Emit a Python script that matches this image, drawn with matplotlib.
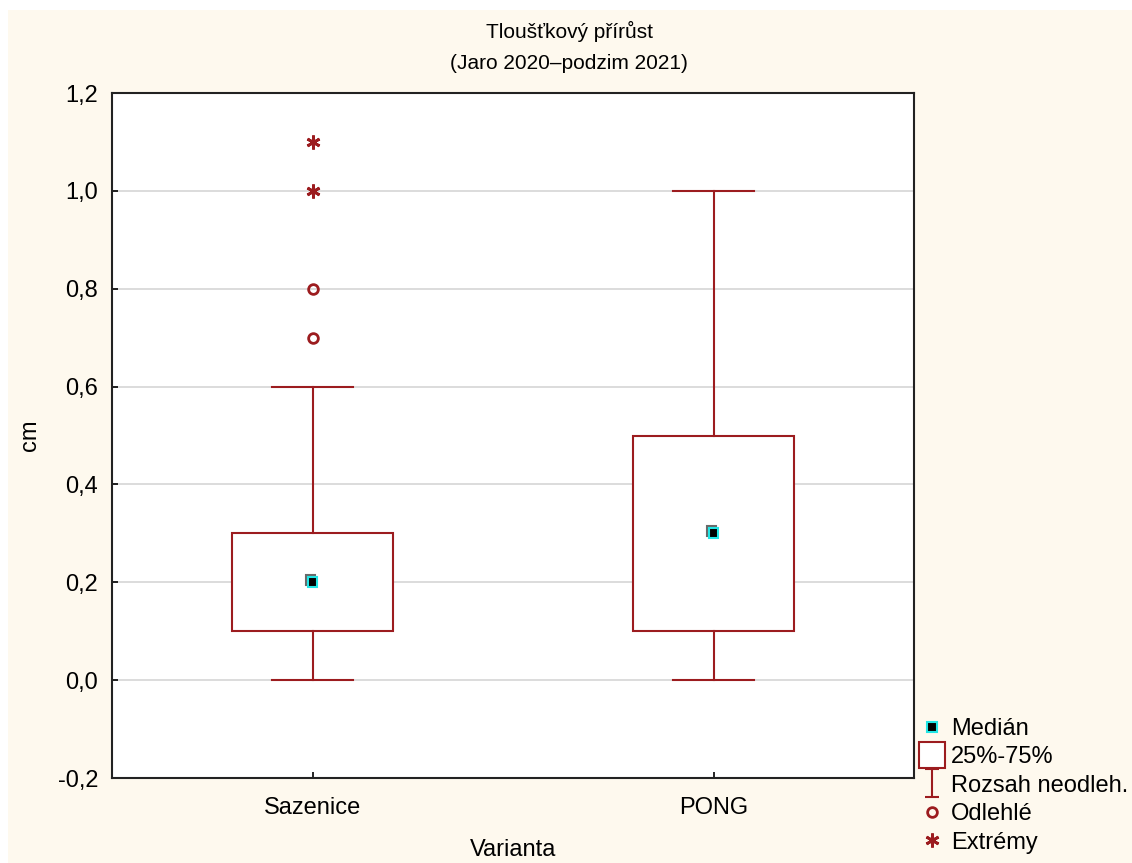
import matplotlib.pyplot as plt
import matplotlib.patheffects as pe
from matplotlib.lines import Line2D
from matplotlib.patches import Rectangle
from matplotlib.path import Path

plt.rcParams['font.family'] = ['Liberation Sans', 'DejaVu Sans']

categories = ['Sazenice', 'PONG']
medians = [0.2, 0.3]
q1 = [0.1, 0.1]
q3 = [0.3, 0.5]
whisker_lo = [0.0, 0.0]
whisker_hi = [0.6, 1.0]
outliers = [[0.7, 0.8], []]
extremes = [[1.0, 1.1], []]
yticks = [-0.2, 0.0, 0.2, 0.4, 0.6, 0.8, 1.0, 1.2]

red = '#9c1c1f'
cream = '#fef9ee'

fig = plt.figure(figsize=(11.32, 8.63), dpi=100)
fig.patch.set_facecolor('white')
fig.patches.append(Rectangle((8 / 1132, 0), 1, 1 - 10 / 863, transform=fig.transFigure,
                             facecolor=cream, edgecolor='none', zorder=-10))
ax = fig.add_axes([112 / 1132, 1 - 778 / 863, 802 / 1132, 685 / 863])
ax.set_facecolor('white')

stats = []
for i, name in enumerate(categories):
    stats.append(dict(label=name, med=medians[i], q1=q1[i], q3=q3[i],
                      whislo=whisker_lo[i], whishi=whisker_hi[i], fliers=outliers[i]))

pos = [1, 2]
ax.bxp(stats, positions=pos, widths=0.4, showfliers=True, patch_artist=True,
       boxprops=dict(facecolor='white', edgecolor=red, linewidth=1.5),
       whiskerprops=dict(color=red, linewidth=1.5),
       capprops=dict(color=red, linewidth=1.5),
       capwidths=0.2,
       medianprops=dict(linewidth=0),
       flierprops=dict(marker='o', markerfacecolor='none', markeredgecolor=red,
                       markersize=7, markeredgewidth=2))

for i, p in enumerate(pos):
    if extremes[i]:
        ax.plot([p] * len(extremes[i]), extremes[i], linestyle='none', marker=(6, 2, 0),
                markersize=10, markeredgewidth=2, color=red, zorder=4)
    ax.plot([p], [medians[i]], linestyle='none', marker='s', markersize=7,
            markerfacecolor='black', markeredgecolor='#22e5e5', markeredgewidth=1.5, zorder=5,
            path_effects=[pe.SimpleLineShadow(offset=(-1.5, 1.5), shadow_color='#444444', alpha=0.8),
                          pe.Normal()])

ax.set_xlim(0.5, 2.5)
ax.set_ylim(-0.2, 1.2)
ax.set_yticks(yticks)
ax.set_yticklabels([f'{v:.1f}'.replace('.', ',') for v in yticks])
ax.set_xticks(pos)
ax.set_xticklabels(categories)
ax.yaxis.grid(True, color='#d9d9d9', linewidth=1.3)
ax.set_axisbelow(True)
ax.tick_params(direction='in', length=4, width=1.2, labelsize=17)
ax.tick_params(axis='x', pad=14)
ax.tick_params(axis='y', pad=10)
for s in ax.spines.values():
    s.set_linewidth(1.5)
    s.set_color('#222222')

ax.set_xlabel('Varianta', fontsize=17, labelpad=14)
ax.set_ylabel('cm', fontsize=17, labelpad=12)

fig.text(0.503, 1 - 47 / 863, 'Tloušťkový přírůst\n(Jaro 2020–podzim 2021)', ha='center', va='center',
         fontsize=15, linespacing=1.75)

# legend
ibeam = Path([(-0.5, -1), (0.5, -1), (0, -1), (0, 1), (-0.5, 1), (0.5, 1)],
             [Path.MOVETO, Path.LINETO, Path.MOVETO, Path.LINETO, Path.MOVETO, Path.LINETO])
handles = [
    Line2D([], [], linestyle='none', marker='s', markersize=7, markerfacecolor='black',
           markeredgecolor='#22e5e5', markeredgewidth=1.5),
    Line2D([], [], linestyle='none', marker='s', markersize=19, markerfacecolor='white',
           markeredgecolor=red, markeredgewidth=1.5),
    Line2D([], [], linestyle='none', marker=ibeam, markersize=20, markeredgecolor=red,
           markeredgewidth=1.5),
    Line2D([], [], linestyle='none', marker='o', markersize=7, markerfacecolor='none',
           markeredgecolor=red, markeredgewidth=2),
    Line2D([], [], linestyle='none', marker=(6, 2, 0), markersize=10, markeredgewidth=2,
           color=red),
]
labels = ['Medián', '25%-75%', 'Rozsah neodleh.', 'Odlehlé', 'Extrémy']
fig.legend(handles, labels, loc='upper left', bbox_to_anchor=(920 / 1132, 1 - 718 / 863),
           frameon=False, fontsize=17, handlelength=1.0, handletextpad=0.3,
           labelspacing=0.27, borderpad=0, borderaxespad=0)

fig.savefig('out.png', dpi=100, facecolor=fig.get_facecolor())
